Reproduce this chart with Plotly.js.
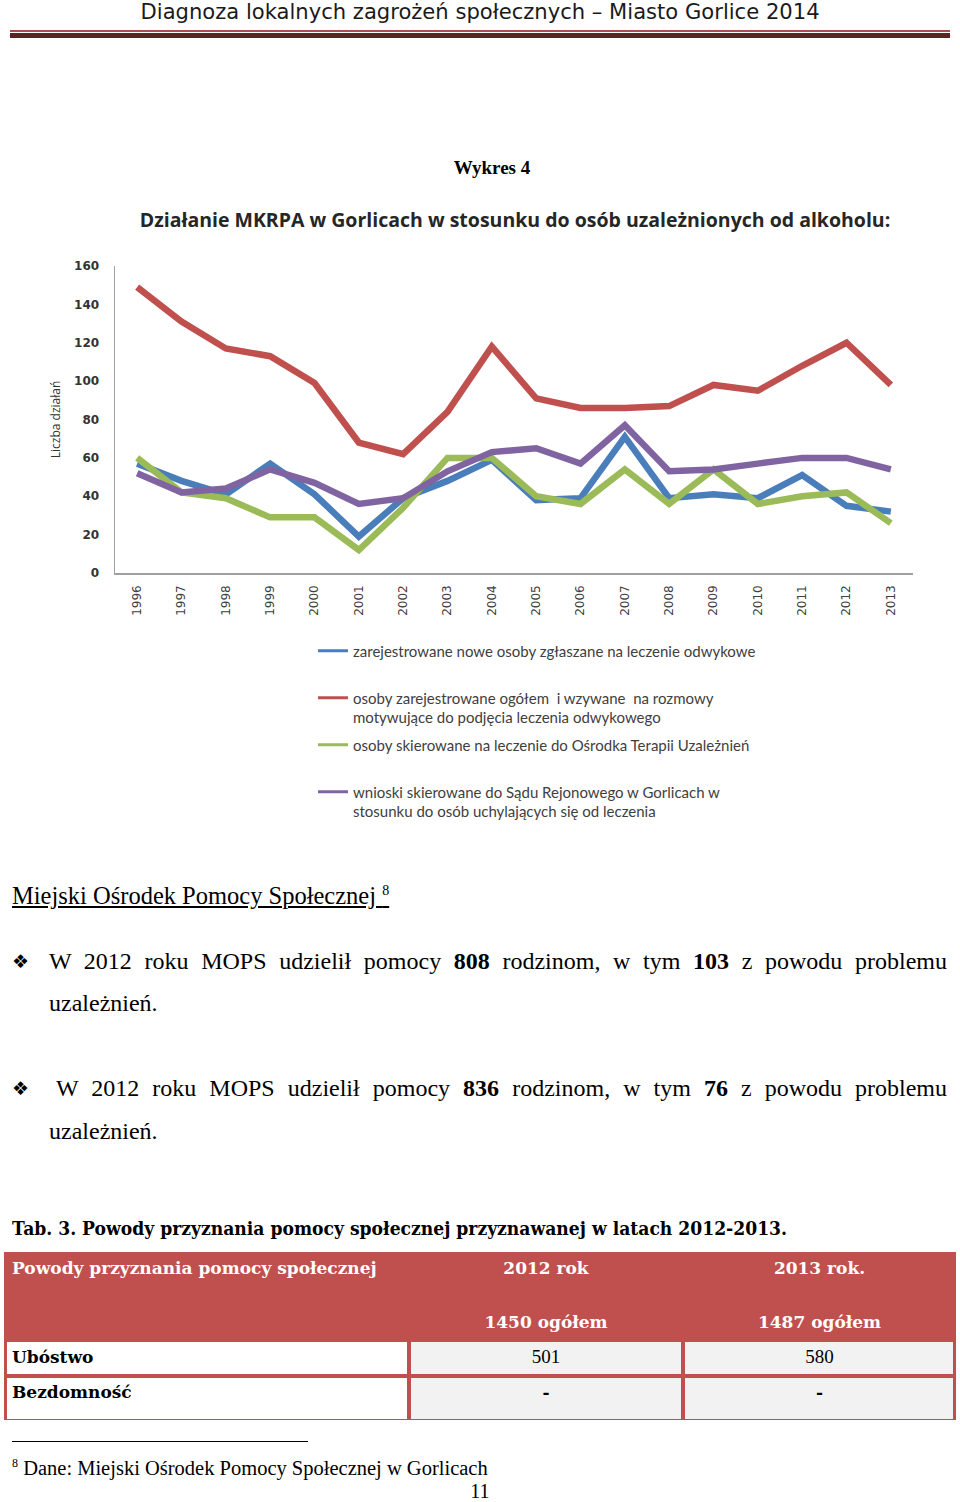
<!DOCTYPE html>
<html>
<head>
<meta charset="utf-8">
<script src="https://cdn.plot.ly/plotly-3.0.1.min.js"></script>
<style>
  html,body{margin:0;padding:0;background:#fff;}
  #page{position:relative;width:960px;height:1502px;overflow:hidden;background:#fff;}
  .abs{position:absolute;white-space:nowrap;}
  .serif{font-family:"Liberation Serif","Times New Roman",serif;color:#000;}
  .fit{display:inline-block;}
</style>
</head>
<body>
<div id="page">
  <div class="abs" id="hdr" style="left:0;width:960px;top:1px;text-align:center;">
    <span class="fit" data-w="679" style="font-family:'DejaVu Sans Condensed','DejaVu Sans',sans-serif;font-stretch:condensed;font-size:21px;line-height:22px;color:#1a1a1a;">Diagnoza lokalnych zagrożeń społecznych – Miasto Gorlice 2014</span>
  </div>
  <div class="abs" style="left:10px;width:940px;top:30px;height:2px;background:#a4504b;"></div>
  <div class="abs" style="left:10px;width:940px;top:33px;height:5px;background:#5b2322;"></div>

  <div class="abs serif" style="left:392px;width:200px;top:155px;text-align:center;font-size:19px;font-weight:bold;line-height:26px;">Wykres 4</div>

  <div id="chart" class="abs" style="left:0;top:190px;width:960px;height:650px;"></div>

  <div class="abs serif" style="left:12px;top:875px;font-size:24.5px;line-height:32px;"><span style="text-decoration:underline;">Miejski Ośrodek Pomocy Społecznej <sup style="font-size:14px;vertical-align:9px;">8</sup></span></div>

  <div class="abs" style="left:12px;top:946px;font-family:'DejaVu Sans',sans-serif;font-size:19px;line-height:30px;">❖</div>
  <div class="abs serif" style="left:49px;width:898px;top:944px;font-size:24px;line-height:34px;text-align:justify;text-align-last:justify;white-space:normal;">W 2012 roku MOPS udzielił pomocy <b>808</b> rodzinom, w tym <b>103</b> z powodu problemu</div>
  <div class="abs serif" style="left:49px;top:986px;font-size:24px;line-height:34px;">uzależnień.</div>

  <div class="abs" style="left:12px;top:1073px;font-family:'DejaVu Sans',sans-serif;font-size:19px;line-height:30px;">❖</div>
  <div class="abs serif" style="left:56px;width:891px;top:1071px;font-size:24px;line-height:34px;text-align:justify;text-align-last:justify;white-space:normal;">W 2012 roku MOPS udzielił pomocy <b>836</b> rodzinom, w tym <b>76</b> z powodu problemu</div>
  <div class="abs serif" style="left:49px;top:1114px;font-size:24px;line-height:34px;">uzależnień.</div>

  <div class="abs" style="left:12px;top:1216px;">
    <span class="fit" data-w="775" style="font-family:'DejaVu Serif','Liberation Serif',serif;font-weight:bold;font-size:18px;line-height:26px;color:#000;">Tab. 3. Powody przyznania pomocy społecznej przyznawanej w latach 2012-2013.</span>
  </div>

  <div id="tbl"></div>

  <div class="abs" style="left:12px;width:296px;top:1441px;height:1px;background:#000;"></div>
  <div class="abs serif" style="left:12px;top:1449px;font-size:20.5px;line-height:28px;"><sup style="font-size:12px;vertical-align:8px;">8</sup> Dane: Miejski Ośrodek Pomocy Społecznej w Gorlicach</div>
  <div class="abs serif" style="left:430px;width:100px;top:1478px;font-size:20px;line-height:26px;text-align:center;">11</div>
</div>

<script>
// ---------- chart data ----------
const years = ['1996','1997','1998','1999','2000','2001','2002','2003','2004','2005','2006','2007','2008','2009','2010','2011','2012','2013'];
const seriesNames = [
  'zarejestrowane nowe osoby zgłaszane na leczenie odwykowe<br>&nbsp;',
  'osoby zarejestrowane ogółem  i wzywane  na rozmowy<br>motywujące do podjęcia leczenia odwykowego',
  'osoby skierowane na leczenie do Ośrodka Terapii Uzależnień<br>&nbsp;',
  'wnioski skierowane do Sądu Rejonowego w Gorlicach w<br>stosunku do osób uchylających się od leczenia'
];
const nowe      = [57,48,41,57,41,19,39,48,59,38,39,71,39,41,39,51,35,32];
const ogolem    = [149,131,117,113,99,68,62,84,118,91,86,86,87,98,95,108,120,98];
const skierowane= [60,42,39,29,29,12,34,60,60,40,36,54,36,54,36,40,42,26];
const wnioski   = [52,42,44,54,47,36,39,53,63,65,57,77,53,54,57,60,60,54];
const seriesValues = [nowe, ogolem, skierowane, wnioski];
const seriesColors = ['#4a7ebb','#c0504d','#9bbb59','#8064a2'];

// ---------- table data ----------
const tableTitle = 'Powody przyznania pomocy społecznej';
const tableYears = ['2012 rok','2013 rok.'];
const tableTotals = ['1450 ogółem','1487 ogółem'];
const rowLabels = ['Ubóstwo','Bezdomność'];
const rowVals2012 = ['501','-'];
const rowVals2013 = ['580','-'];

// ---------- chart ----------
const traces = [];
seriesValues.forEach((vals,i)=>{
  traces.push({x:years, y:vals, type:'scatter', mode:'lines', name:seriesNames[i],
    line:{color:seriesColors[i], width:6.5}, showlegend:false, hoverinfo:'skip'});
});
seriesValues.forEach((vals,i)=>{
  traces.push({x:[null], y:[null], type:'scatter', mode:'lines', name:seriesNames[i],
    line:{color:seriesColors[i], width:3}, showlegend:true, legendgroup:'g'+i});
});

const H = 650;
const layout = {
  width:960, height:H,
  margin:{l:115, r:47, t:76, b:264},
  paper_bgcolor:'rgba(0,0,0,0)', plot_bgcolor:'#fff',
  title:{text:'<b>Działanie MKRPA w Gorlicach w stosunku do osób uzależnionych od alkoholu:</b>',
    font:{family:'Open Sans', size:19.5, color:'#262626'},
    x:515/960, xanchor:'center', xref:'container', y:1-30/H, yref:'container', yanchor:'middle'},
  xaxis:{type:'category', range:[-0.5,17.5], tickangle:-90,
    tickfont:{family:'DejaVu Sans', size:12, color:'#404040'},
    showline:true, linecolor:'#a0a0a0', linewidth:1.5, showgrid:false, zeroline:false, ticks:'',
    ticklabelstandoff:6, automargin:false, fixedrange:true},
  yaxis:{range:[0,160], dtick:20, tickfont:{family:'DejaVu Sans', size:12, color:'#333', weight:'bold'},
    showline:true, linecolor:'#a0a0a0', linewidth:1.5, showgrid:false, zeroline:false, ticks:'',
    ticklabelstandoff:12, automargin:false, fixedrange:true,
    title:{text:'Liczba działań', font:{family:'Open Sans', size:12, color:'#333'}, standoff:11}},
  showlegend:true,
  legend:{x:(313-115)/798, xanchor:'left', y:-0.2, yanchor:'top',
    font:{family:'Lato', size:15, color:'#404040'}, valign:'top', tracegroupgap:5,
    bgcolor:'rgba(0,0,0,0)', itemclick:false, itemdoubleclick:false},
};
Plotly.newPlot('chart', traces, layout, {displayModeBar:false, staticPlot:true});

// ---------- table ----------
(function(){
  const t = document.getElementById('tbl');
  const red = '#c0504d';
  const colX = [4,409,683,956];
  const rowY = [1252,1342,1376,1420];
  const bw = 3;
  function box(l,tp,w,h,bg){const d=document.createElement('div');d.className='abs';
    d.style.cssText+=`left:${l}px;top:${tp}px;width:${w}px;height:${h}px;background:${bg};`;t.appendChild(d);return d;}
  function txt(s,l,tp,w,align,style){const d=document.createElement('div');d.className='abs';
    d.style.cssText+=`left:${l}px;top:${tp}px;width:${w}px;text-align:${align};${style}`;d.textContent=s;t.appendChild(d);return d;}
  box(colX[0],rowY[0],colX[3]-colX[0],rowY[1]-rowY[0],red);
  box(colX[0],rowY[1],colX[3]-colX[0],rowY[3]-rowY[1],red);
  for(let r=1;r<3;r++){
    for(let c=0;c<3;c++){
      const l=colX[c]+(c===0?bw:bw/2+0.5), rgt=colX[c+1]-(c===2?bw:bw/2+0.5);
      box(l,rowY[r]+ (r===1?0:bw/2+0.5), rgt-l, rowY[r+1]-rowY[r]-(r===1?bw/2+0.5:bw/2+0.5)-(r===2?bw/2:0), c===0?'#fff':'#f2f2f2');
    }
  }
  const hs = "font-family:'DejaVu Serif','Liberation Serif',serif;font-weight:bold;font-size:17px;line-height:24px;color:#fff;";
  txt(tableTitle,12,rowY[0]+4,400,'left',hs);
  tableYears.forEach((s,i)=>txt(s,colX[i+1],rowY[0]+4,colX[i+2]-colX[i+1],'center',hs));
  tableTotals.forEach((s,i)=>txt(s,colX[i+1],rowY[0]+58,colX[i+2]-colX[i+1],'center',hs));
  const bs = "font-family:'DejaVu Serif','Liberation Serif',serif;font-weight:bold;font-size:17px;line-height:24px;color:#000;";
  const vs = "font-family:'Liberation Serif',serif;font-size:19px;line-height:24px;color:#000;";
  rowLabels.forEach((s,r)=>{
    const top = r===0 ? 1345 : 1380;
    txt(s,12,top,390,'left',bs);
    const v1=rowVals2012[r], v2=rowVals2013[r];
    const st = v1==='-'?bs:vs;
    txt(v1,colX[1],top,colX[2]-colX[1],'center',st);
    txt(v2,colX[2],top,colX[3]-colX[2],'center',st);
  });
})();

// ---------- fit widths ----------
function fitAll(){
  document.querySelectorAll('.fit').forEach(el=>{
    el.style.transform='none';
    const w = el.getBoundingClientRect().width;
    const target = +el.dataset.w;
    if(w>0){
      const p = el.parentElement;
      const centered = p.style.textAlign==='center';
      el.style.transformOrigin = centered ? 'center' : 'left';
      el.style.transform = `scaleX(${target/w})`;
    }
  });
}
fitAll();
if(document.fonts && document.fonts.ready){document.fonts.ready.then(fitAll);}
</script>
</body>
</html>
